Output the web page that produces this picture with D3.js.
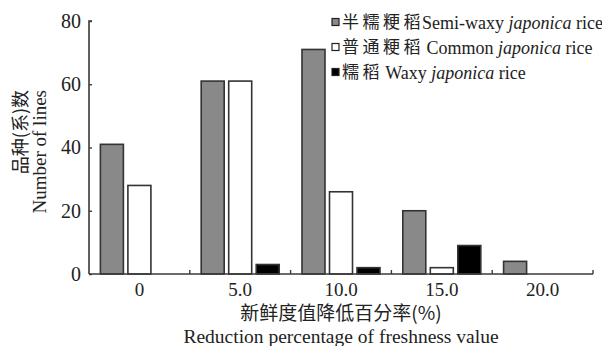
<!DOCTYPE html>
<html>
<head>
<meta charset="utf-8">
<script src="https://cdn.jsdelivr.net/npm/d3@7"></script>
<style>
  html, body { margin: 0; padding: 0; background: #fff; }
  svg { display: block; }
</style>
</head>
<body>
<svg id="chart" width="602" height="346"></svg>
<script>
// Reduction classes of freshness value (%)
const categories = ["0", "5.0", "10.0", "15.0", "20.0"];
// Number of lines per rice type
const semiWaxy = [41, 61, 71, 20, 4];
const common   = [28, 61, 26, 2, 0];
const waxy     = [0, 3, 2, 9, 0];
const yTicks = [0, 20, 40, 60, 80];

const seriesList = [
  { key: "semi", cn: "半糯粳稻", en1: "Semi-waxy ", it: "japonica", en2: " rice", values: semiWaxy, fill: "#898989" },
  { key: "common", cn: "普通粳稻", en1: " Common ", it: "japonica", en2: " rice", values: common, fill: "#ffffff" },
  { key: "waxy", cn: "糯稻", en1: " Waxy ", it: "japonica", en2: " rice", values: waxy, fill: "#000000" }
];

const LAT = "'Liberation Serif', 'Times New Roman', serif";
const CJK = "'Noto Sans CJK SC', sans-serif";

const svg = d3.select("#chart");
const plotLeft = 89, plotRight = 593, plotTop = 21, plotBottom = 274;
const ink = "#3a3a3a";
const textInk = "#222";

const x0 = d3.scaleBand().domain(categories).range([plotLeft, plotRight])
  .paddingInner(0.226).paddingOuter(0.113);
const x1 = d3.scaleBand().domain(seriesList.map(s => s.key)).range([0, x0.bandwidth()])
  .paddingInner(0.164).paddingOuter(0);
const y = d3.scaleLinear().domain([0, 80]).range([plotBottom, plotTop]);

// Bars
const groups = svg.append("g").selectAll("g")
  .data(categories)
  .join("g")
  .attr("transform", d => `translate(${x0(d)},0)`);

groups.selectAll("rect")
  .data((c, i) => seriesList.map(s => ({ s, v: s.values[i] })).filter(d => d.v > 0))
  .join("rect")
  .attr("x", d => x1(d.s.key))
  .attr("width", x1.bandwidth())
  .attr("y", d => y(d.v))
  .attr("height", d => y(0) - y(d.v))
  .attr("fill", d => d.s.fill)
  .attr("stroke", "#333")
  .attr("stroke-width", 1.6);

// Y axis: ticks point inward
const yAxis = d3.axisLeft(y).tickValues(yTicks).tickSize(-3).tickPadding(8).tickFormat(d3.format("d"));
const gy = svg.append("g").attr("transform", `translate(${plotLeft},0)`).call(yAxis);
gy.attr("font-family", null).attr("font-size", null);
gy.select(".domain").attr("stroke", ink).attr("stroke-width", 1.6).attr("d", `M3,${plotTop}H0V${plotBottom}`);
gy.selectAll(".tick line").attr("stroke", ink).attr("stroke-width", 1.4);
gy.selectAll(".tick text").style("font-family", LAT).style("font-size", "20px").attr("fill", textInk);

// X axis: labels centred on groups, short ticks between groups
const gx = svg.append("g").attr("transform", `translate(0,${plotBottom})`);
gx.append("line").attr("x1", plotLeft).attr("x2", plotRight).attr("y1", 0).attr("y2", 0)
  .attr("stroke", ink).attr("stroke-width", 1.6);
const boundaries = categories.slice(1).map(c => x0(c) - x0.step() * x0.paddingInner() / 2).concat([plotRight]);
gx.selectAll("line.tk").data(boundaries).join("line").attr("class", "tk")
  .attr("x1", d => d).attr("x2", d => d).attr("y1", 0).attr("y2", -4)
  .attr("stroke", ink).attr("stroke-width", 1.4);
gx.selectAll("text").data(categories).join("text")
  .attr("x", d => x0(d) + x0.bandwidth() / 2)
  .attr("y", 22)
  .attr("text-anchor", "middle")
  .style("font-family", LAT).style("font-size", "19px").attr("fill", textInk)
  .text(d => d);

// Axis titles
svg.append("text").attr("x", 341).attr("y", 320)
  .attr("text-anchor", "middle").style("font-family", CJK).style("font-size", "19px").attr("fill", textInk)
  .text("新鲜度值降低百分率(%)");
svg.append("text").attr("x", 341).attr("y", 343)
  .attr("text-anchor", "middle").style("font-family", LAT).style("font-size", "19.5px").attr("fill", textInk)
  .text("Reduction percentage of freshness value");

svg.append("text")
  .attr("transform", "translate(27,90) rotate(-90)")
  .attr("text-anchor", "end").style("font-family", CJK).style("font-size", "18px").attr("fill", textInk)
  .text("品种(系)数");
svg.append("text")
  .attr("transform", "translate(46,90) rotate(-90)")
  .attr("text-anchor", "end").style("font-family", LAT).style("font-size", "19px").attr("fill", textInk)
  .text("Number of lines");

// Legend: swatch, Chinese name, then English name set right after it
const legend = svg.append("g").attr("transform", "translate(332,22)");
const rows = legend.selectAll("g").data(seriesList).join("g")
  .attr("transform", (d, i) => `translate(0,${i * 25})`);
rows.append("rect").attr("x", 0).attr("y", -3.5).attr("width", 7).attr("height", 7)
  .attr("fill", d => d.fill).attr("stroke", "#222").attr("stroke-width", 1.2);
rows.each(function (d) {
  const row = d3.select(this);
  const cn = row.append("text").attr("x", 10).attr("y", 6).attr("fill", textInk)
    .style("font-family", CJK).style("font-size", "17px").style("letter-spacing", "3.5px")
    .text(d.cn);
  const cnWidth = cn.node().getComputedTextLength();
  const en = row.append("text").attr("x", 10 + cnWidth - 2).attr("y", 6.5).attr("fill", textInk)
    .style("font-family", LAT).style("font-size", "18px").style("white-space", "pre");
  en.append("tspan").text(d.en1);
  en.append("tspan").style("font-style", "italic").text(d.it);
  en.append("tspan").text(d.en2);
});
</script>
</body>
</html>
